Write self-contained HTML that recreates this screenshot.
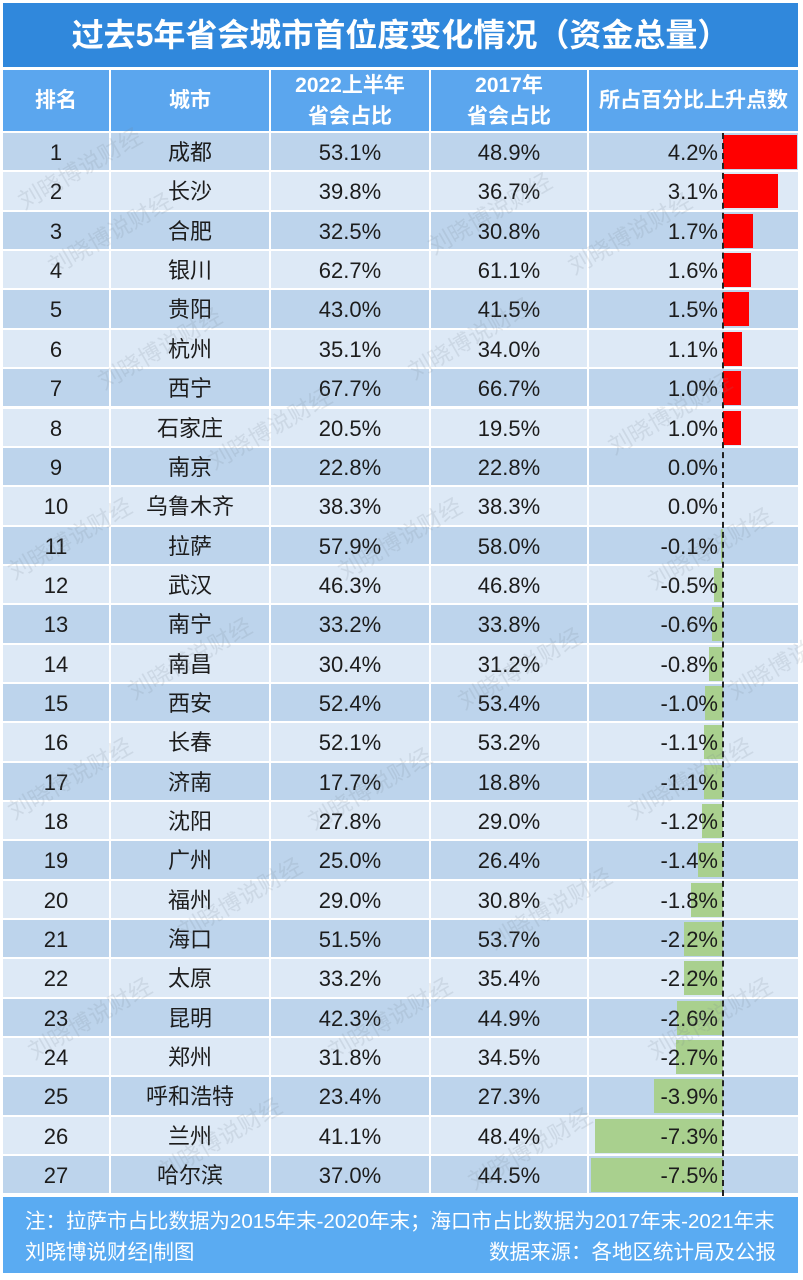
<!DOCTYPE html>
<html><head><meta charset="utf-8">
<style>
*{margin:0;padding:0;box-sizing:border-box}
html,body{width:803px;height:1280px;background:#fff;overflow:hidden}
body{position:relative;font-family:"Liberation Sans","Noto Sans CJK SC",sans-serif;color:#1c1c1c}
.title{position:absolute;left:3px;top:3px;width:795px;height:64px;background:#3088dc;color:#fff;font-weight:bold;font-size:32px;line-height:64px;text-align:center;letter-spacing:0px}
.hd{position:absolute;top:70px;height:61px;background:#5ba6ee;color:#fff;font-weight:bold;font-size:21px;display:flex;align-items:center;justify-content:center;text-align:center;line-height:31px}
.r{position:absolute;left:0;width:803px;height:37.4px}
.c{position:absolute;top:0;height:37.4px;font-size:22px;line-height:39px;text-align:center}
.d .c{background:#bdd4ec}
.l .c{background:#dde9f6}
.c1{left:3px;width:106px}
.c2{left:111px;width:158px}
.c3{left:271px;width:158px}
.c4{left:431px;width:156px}
.c5{left:589px;width:209px}
.bar{position:absolute;top:2px;height:34px}
.pos{background:#ff0000;left:723px}
.neg{background:#a9d08e}
.v{position:absolute;right:85px;top:0;height:37.4px;font-size:22px;line-height:39px;text-align:right}
.dash{position:absolute;left:722px;top:133px;width:0;height:1063px;border-left:2px dashed #222}
.foot{position:absolute;left:3px;top:1197px;width:795px;height:76px;background:#5aabf2;color:#fff;font-size:20.5px}
.wm{position:absolute;font-size:23px;color:rgba(120,130,140,0.16);transform:rotate(-30deg);white-space:nowrap;pointer-events:none}
</style></head><body>
<div class="title">过去5年省会城市首位度变化情况（资金总量）</div>
<div class="hd" style="left:3px;width:106px">排名</div>
<div class="hd" style="left:111px;width:158px">城市</div>
<div class="hd" style="left:271px;width:158px">2022上半年<br>省会占比</div>
<div class="hd" style="left:431px;width:156px">2017年<br>省会占比</div>
<div class="hd" style="left:589px;width:209px">所占百分比上升点数</div>

<div class="r d" style="top:133px"><div class="c c1">1</div><div class="c c2">成都</div><div class="c c3">53.1%</div><div class="c c4">48.9%</div><div class="c c5"></div><div class="bar pos" style="width:74px"></div><div class="v">4.2%</div></div>
<div class="r l" style="top:172.4px"><div class="c c1">2</div><div class="c c2">长沙</div><div class="c c3">39.8%</div><div class="c c4">36.7%</div><div class="c c5"></div><div class="bar pos" style="width:54.6px"></div><div class="v">3.1%</div></div>
<div class="r d" style="top:211.7px"><div class="c c1">3</div><div class="c c2">合肥</div><div class="c c3">32.5%</div><div class="c c4">30.8%</div><div class="c c5"></div><div class="bar pos" style="width:29.9px"></div><div class="v">1.7%</div></div>
<div class="r l" style="top:251.1px"><div class="c c1">4</div><div class="c c2">银川</div><div class="c c3">62.7%</div><div class="c c4">61.1%</div><div class="c c5"></div><div class="bar pos" style="width:28.2px"></div><div class="v">1.6%</div></div>
<div class="r d" style="top:290.4px"><div class="c c1">5</div><div class="c c2">贵阳</div><div class="c c3">43.0%</div><div class="c c4">41.5%</div><div class="c c5"></div><div class="bar pos" style="width:26.4px"></div><div class="v">1.5%</div></div>
<div class="r l" style="top:329.8px"><div class="c c1">6</div><div class="c c2">杭州</div><div class="c c3">35.1%</div><div class="c c4">34.0%</div><div class="c c5"></div><div class="bar pos" style="width:19.4px"></div><div class="v">1.1%</div></div>
<div class="r d" style="top:369.1px"><div class="c c1">7</div><div class="c c2">西宁</div><div class="c c3">67.7%</div><div class="c c4">66.7%</div><div class="c c5"></div><div class="bar pos" style="width:17.6px"></div><div class="v">1.0%</div></div>
<div class="r l" style="top:408.5px"><div class="c c1">8</div><div class="c c2">石家庄</div><div class="c c3">20.5%</div><div class="c c4">19.5%</div><div class="c c5"></div><div class="bar pos" style="width:17.6px"></div><div class="v">1.0%</div></div>
<div class="r d" style="top:447.8px"><div class="c c1">9</div><div class="c c2">南京</div><div class="c c3">22.8%</div><div class="c c4">22.8%</div><div class="c c5"></div><div class="v">0.0%</div></div>
<div class="r l" style="top:487.2px"><div class="c c1">10</div><div class="c c2">乌鲁木齐</div><div class="c c3">38.3%</div><div class="c c4">38.3%</div><div class="c c5"></div><div class="v">0.0%</div></div>
<div class="r d" style="top:526.5px"><div class="c c1">11</div><div class="c c2">拉萨</div><div class="c c3">57.9%</div><div class="c c4">58.0%</div><div class="c c5"></div><div class="bar neg" style="left:721.2px;width:1.8px"></div><div class="v">-0.1%</div></div>
<div class="r l" style="top:565.9px"><div class="c c1">12</div><div class="c c2">武汉</div><div class="c c3">46.3%</div><div class="c c4">46.8%</div><div class="c c5"></div><div class="bar neg" style="left:714.2px;width:8.8px"></div><div class="v">-0.5%</div></div>
<div class="r d" style="top:605.2px"><div class="c c1">13</div><div class="c c2">南宁</div><div class="c c3">33.2%</div><div class="c c4">33.8%</div><div class="c c5"></div><div class="bar neg" style="left:712.4px;width:10.6px"></div><div class="v">-0.6%</div></div>
<div class="r l" style="top:644.6px"><div class="c c1">14</div><div class="c c2">南昌</div><div class="c c3">30.4%</div><div class="c c4">31.2%</div><div class="c c5"></div><div class="bar neg" style="left:708.9px;width:14.1px"></div><div class="v">-0.8%</div></div>
<div class="r d" style="top:683.9px"><div class="c c1">15</div><div class="c c2">西安</div><div class="c c3">52.4%</div><div class="c c4">53.4%</div><div class="c c5"></div><div class="bar neg" style="left:705.4px;width:17.6px"></div><div class="v">-1.0%</div></div>
<div class="r l" style="top:723.3px"><div class="c c1">16</div><div class="c c2">长春</div><div class="c c3">52.1%</div><div class="c c4">53.2%</div><div class="c c5"></div><div class="bar neg" style="left:703.6px;width:19.4px"></div><div class="v">-1.1%</div></div>
<div class="r d" style="top:762.6px"><div class="c c1">17</div><div class="c c2">济南</div><div class="c c3">17.7%</div><div class="c c4">18.8%</div><div class="c c5"></div><div class="bar neg" style="left:703.6px;width:19.4px"></div><div class="v">-1.1%</div></div>
<div class="r l" style="top:802px"><div class="c c1">18</div><div class="c c2">沈阳</div><div class="c c3">27.8%</div><div class="c c4">29.0%</div><div class="c c5"></div><div class="bar neg" style="left:701.9px;width:21.1px"></div><div class="v">-1.2%</div></div>
<div class="r d" style="top:841.3px"><div class="c c1">19</div><div class="c c2">广州</div><div class="c c3">25.0%</div><div class="c c4">26.4%</div><div class="c c5"></div><div class="bar neg" style="left:698.4px;width:24.6px"></div><div class="v">-1.4%</div></div>
<div class="r l" style="top:880.7px"><div class="c c1">20</div><div class="c c2">福州</div><div class="c c3">29.0%</div><div class="c c4">30.8%</div><div class="c c5"></div><div class="bar neg" style="left:691.3px;width:31.7px"></div><div class="v">-1.8%</div></div>
<div class="r d" style="top:920px"><div class="c c1">21</div><div class="c c2">海口</div><div class="c c3">51.5%</div><div class="c c4">53.7%</div><div class="c c5"></div><div class="bar neg" style="left:684.3px;width:38.7px"></div><div class="v">-2.2%</div></div>
<div class="r l" style="top:959.4px"><div class="c c1">22</div><div class="c c2">太原</div><div class="c c3">33.2%</div><div class="c c4">35.4%</div><div class="c c5"></div><div class="bar neg" style="left:684.3px;width:38.7px"></div><div class="v">-2.2%</div></div>
<div class="r d" style="top:998.7px"><div class="c c1">23</div><div class="c c2">昆明</div><div class="c c3">42.3%</div><div class="c c4">44.9%</div><div class="c c5"></div><div class="bar neg" style="left:677.2px;width:45.8px"></div><div class="v">-2.6%</div></div>
<div class="r l" style="top:1038.1px"><div class="c c1">24</div><div class="c c2">郑州</div><div class="c c3">31.8%</div><div class="c c4">34.5%</div><div class="c c5"></div><div class="bar neg" style="left:675.5px;width:47.5px"></div><div class="v">-2.7%</div></div>
<div class="r d" style="top:1077.4px"><div class="c c1">25</div><div class="c c2">呼和浩特</div><div class="c c3">23.4%</div><div class="c c4">27.3%</div><div class="c c5"></div><div class="bar neg" style="left:654.4px;width:68.6px"></div><div class="v">-3.9%</div></div>
<div class="r l" style="top:1116.8px"><div class="c c1">26</div><div class="c c2">兰州</div><div class="c c3">41.1%</div><div class="c c4">48.4%</div><div class="c c5"></div><div class="bar neg" style="left:594.5px;width:128.5px"></div><div class="v">-7.3%</div></div>
<div class="r d" style="top:1156.1px"><div class="c c1">27</div><div class="c c2">哈尔滨</div><div class="c c3">37.0%</div><div class="c c4">44.5%</div><div class="c c5"></div><div class="bar neg" style="left:591px;width:132px"></div><div class="v">-7.5%</div></div>

<div class="dash"></div>

<div class="foot">
<div style="position:absolute;left:22px;top:12px;line-height:26px;white-space:nowrap">注：拉萨市占比数据为2015年末-2020年末；海口市占比数据为2017年末-2021年末</div>
<div style="position:absolute;left:22px;top:43px;line-height:26px;white-space:nowrap">刘晓博说财经|制图</div>
<div style="position:absolute;right:22px;top:43px;line-height:26px;white-space:nowrap">数据来源：各地区统计局及公报</div>
</div>

<div class="wm" style="left:10px;top:150px">刘晓博说财经</div>
<div class="wm" style="left:40px;top:215px">刘晓博说财经</div>
<div class="wm" style="left:420px;top:195px">刘晓博说财经</div>
<div class="wm" style="left:560px;top:215px">刘晓博说财经</div>
<div class="wm" style="left:90px;top:330px">刘晓博说财经</div>
<div class="wm" style="left:400px;top:320px">刘晓博说财经</div>
<div class="wm" style="left:200px;top:410px">刘晓博说财经</div>
<div class="wm" style="left:600px;top:395px">刘晓博说财经</div>
<div class="wm" style="left:0px;top:520px">刘晓博说财经</div>
<div class="wm" style="left:330px;top:520px">刘晓博说财经</div>
<div class="wm" style="left:640px;top:530px">刘晓博说财经</div>
<div class="wm" style="left:120px;top:640px">刘晓博说财经</div>
<div class="wm" style="left:450px;top:650px">刘晓博说财经</div>
<div class="wm" style="left:720px;top:640px">刘晓博说财经</div>
<div class="wm" style="left:0px;top:760px">刘晓博说财经</div>
<div class="wm" style="left:300px;top:770px">刘晓博说财经</div>
<div class="wm" style="left:620px;top:760px">刘晓博说财经</div>
<div class="wm" style="left:170px;top:880px">刘晓博说财经</div>
<div class="wm" style="left:480px;top:890px">刘晓博说财经</div>
<div class="wm" style="left:20px;top:1000px">刘晓博说财经</div>
<div class="wm" style="left:320px;top:1000px">刘晓博说财经</div>
<div class="wm" style="left:640px;top:1000px">刘晓博说财经</div>
<div class="wm" style="left:150px;top:1120px">刘晓博说财经</div>
<div class="wm" style="left:460px;top:1130px">刘晓博说财经</div>
</body></html>
